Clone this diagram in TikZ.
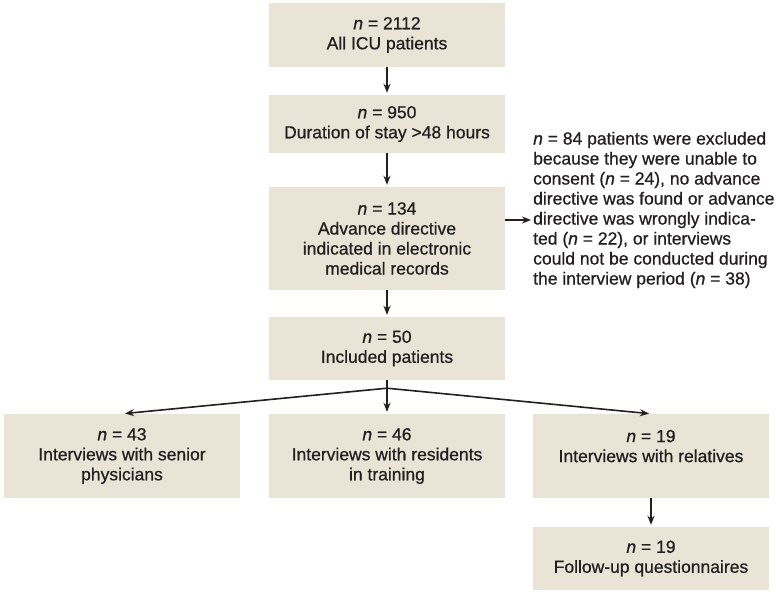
\documentclass[tikz,border=0pt]{standalone}
\usepackage{fontspec}
\setmainfont{Liberation Sans}[FakeBold=0.7,AutoFakeBold=0.7]
\usetikzlibrary{arrows.meta,calc}
\definecolor{boxfill}{RGB}{233,228,214}
\definecolor{ink}{RGB}{35,31,32}
\tikzset{
  flowbox/.style={fill=boxfill, draw=none, minimum width=236pt, align=center, inner sep=0pt,
    text=ink, font=\fontsize{17.5}{20}\selectfont},
  flowarrow/.style={draw=ink, line width=1.6pt, -{Stealth[length=9pt,width=7pt]}},
  flowline/.style={draw=ink, line width=1.6pt}
}
\begin{document}
\begin{tikzpicture}[x=1pt,y=-1pt]
\useasboundingbox (0,0) rectangle (776,595);
\node[flowbox, minimum height=64pt] (all) at (387,35) {\textit{n} = 2112\\All ICU patients};
\node[flowbox, minimum height=58pt] (stay) at (387,124) {\textit{n} = 950\\Duration of stay >48 hours};
\node[flowbox, minimum height=103pt] (ad) at (387,238.5) {\textit{n} = 134\\Advance directive\\indicated in electronic\\medical records};
\node[flowbox, minimum height=63pt] (incl) at (387,348.5) {\textit{n} = 50\\Included patients};
\node[flowbox, minimum height=84pt] (senior) at (122,456) {\textit{n} = 43\\Interviews with senior\\physicians};
\node[flowbox, minimum height=84pt] (resid) at (387,456) {\textit{n} = 46\\Interviews with residents\\in training};
\node[flowbox, minimum height=84pt] (rel) at (651,456) {\textit{n} = 19\\Interviews with relatives\\\mbox{}};
\node[flowbox, minimum height=63pt] (follow) at (651,558.5) {\textit{n} = 19\\Follow-up questionnaires};
\node[anchor=west, inner sep=0pt, align=left, text=ink, font=\fontsize{17.5}{20}\selectfont] (excl) at (533,210)
  {\textit{n} = 84 patients were excluded\\because they were unable to\\consent (\textit{n} = 24), no advance\\directive was found or advance\\directive was wrongly indica-\\ted (\textit{n} = 22), or interviews\\could not be conducted during\\the interview period (\textit{n} = 38)};
\coordinate (exclarr) at ($(excl.west)+(-2,10)$);
\coordinate (branch) at ($(incl.south)+(0,8)$);
\draw[flowarrow, shorten >=2pt] (all) -- (stay);
\draw[flowarrow, shorten >=2pt] (stay) -- (ad);
\draw[flowarrow, shorten >=2pt] (ad) -- (incl);
\draw[flowarrow] (ad.east |- exclarr) -- (exclarr);
\draw[flowline] (incl.south) -- (branch);
\draw[flowarrow, shorten >=3pt] (branch) -- (senior.north);
\draw[flowarrow, shorten >=2pt] (branch) -- (resid.north);
\draw[flowarrow, shorten >=2pt] (branch) -- (rel.north);
\draw[flowarrow, shorten >=2pt] (rel) -- (follow);
\end{tikzpicture}
\end{document}
